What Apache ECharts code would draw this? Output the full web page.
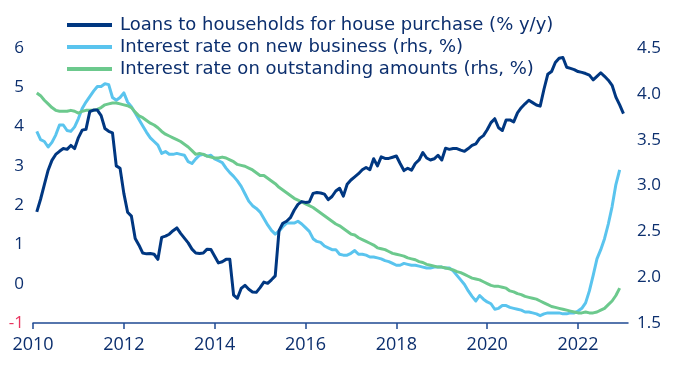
<!DOCTYPE html>
<html>
<head>
<meta charset="utf-8">
<script src="https://cdn.jsdelivr.net/npm/echarts@6/dist/echarts.min.js"></script>
<style>html,body{margin:0;padding:0;background:#fff;}#c{width:675px;height:371px;}</style>
</head>
<body>
<div id="c"></div>
<script>
// Monthly series; first observation = Feb 2010
const startYear = 2010;
const startMonth = 2;
const seriesNames = [
  'Loans to households for house purchase (% y/y)',
  'Interest rate on new business (rhs, %)',
  'Interest rate on outstanding amounts (rhs, %)'
];
const xTicks = [2010, 2012, 2014, 2016, 2018, 2020, 2022];
const leftTicks = [-1, 0, 1, 2, 3, 4, 5, 6];
const rightTicks = [1.5, 2.0, 2.5, 3.0, 3.5, 4.0, 4.5];

const loans = [
  1.83,2.15,2.52,2.89,3.14,3.29,3.37,3.44,3.42,3.52,3.44,3.72,
  3.91,3.93,4.38,4.42,4.42,4.28,3.95,3.88,3.84,3.00,2.94,2.30,
  1.82,1.72,1.15,0.98,0.78,0.76,0.77,0.75,0.62,1.18,1.21,1.26,
  1.35,1.42,1.28,1.16,1.04,0.88,0.78,0.77,0.78,0.88,0.87,0.70,
  0.53,0.56,0.62,0.62,-0.29,-0.37,-0.12,-0.04,-0.14,-0.21,-0.22,-0.10,
  0.04,0.01,0.10,0.20,1.35,1.54,1.59,1.68,1.87,2.02,2.09,2.07,
  2.08,2.30,2.32,2.31,2.28,2.14,2.22,2.36,2.43,2.23,2.53,2.64,
  2.72,2.80,2.90,2.96,2.90,3.18,3.00,3.23,3.19,3.19,3.22,3.25,
  3.06,2.88,2.94,2.89,3.06,3.15,3.34,3.20,3.15,3.18,3.27,3.15,
  3.45,3.42,3.44,3.44,3.40,3.37,3.44,3.52,3.56,3.70,3.77,3.92,
  4.10,4.20,3.97,3.90,4.17,4.17,4.12,4.35,4.48,4.58,4.67,4.61,
  4.55,4.52,4.95,5.33,5.40,5.63,5.74,5.76,5.51,5.48,5.45,5.40,
  5.38,5.35,5.31,5.19,5.28,5.37,5.28,5.18,5.05,4.75,4.55,4.33
];
const newBusiness = [
  3.59,3.50,3.48,3.42,3.47,3.55,3.66,3.66,3.60,3.59,3.64,3.73,
  3.84,3.91,3.97,4.03,4.08,4.08,4.11,4.10,3.96,3.93,3.96,4.01,
  3.91,3.86,3.79,3.72,3.65,3.58,3.52,3.48,3.44,3.35,3.37,3.34,
  3.34,3.35,3.34,3.33,3.26,3.24,3.29,3.33,3.34,3.32,3.33,3.29,
  3.27,3.25,3.19,3.14,3.10,3.05,2.99,2.91,2.83,2.78,2.75,2.71,
  2.64,2.57,2.51,2.47,2.50,2.55,2.59,2.59,2.59,2.61,2.58,2.54,
  2.50,2.42,2.39,2.38,2.34,2.32,2.30,2.30,2.25,2.24,2.24,2.26,
  2.29,2.25,2.25,2.24,2.22,2.22,2.21,2.20,2.18,2.17,2.15,2.13,
  2.13,2.15,2.14,2.13,2.13,2.12,2.11,2.10,2.10,2.11,2.11,2.11,
  2.10,2.10,2.07,2.02,1.97,1.92,1.85,1.79,1.74,1.80,1.76,1.73,
  1.71,1.65,1.66,1.69,1.69,1.67,1.66,1.65,1.64,1.62,1.62,1.61,
  1.60,1.58,1.60,1.61,1.61,1.61,1.61,1.60,1.60,1.61,1.61,1.63,
  1.66,1.72,1.85,2.02,2.20,2.30,2.42,2.58,2.77,3.01,3.17
];
const outstanding = [
  4.01,3.98,3.93,3.89,3.85,3.82,3.81,3.81,3.81,3.82,3.81,3.79,
  3.81,3.82,3.82,3.82,3.83,3.85,3.88,3.89,3.90,3.90,3.89,3.88,
  3.87,3.85,3.80,3.76,3.74,3.71,3.68,3.66,3.63,3.59,3.56,3.54,
  3.52,3.50,3.48,3.45,3.42,3.38,3.34,3.35,3.34,3.32,3.31,3.30,
  3.30,3.31,3.30,3.28,3.26,3.23,3.22,3.21,3.19,3.17,3.14,3.11,
  3.11,3.08,3.05,3.02,2.98,2.95,2.92,2.89,2.86,2.84,2.82,2.80,
  2.78,2.76,2.73,2.70,2.67,2.64,2.61,2.58,2.56,2.53,2.50,2.47,
  2.46,2.43,2.41,2.39,2.37,2.35,2.32,2.31,2.30,2.28,2.26,2.25,
  2.24,2.23,2.21,2.20,2.19,2.17,2.16,2.14,2.13,2.12,2.11,2.11,
  2.10,2.09,2.08,2.06,2.05,2.03,2.01,1.99,1.98,1.97,1.95,1.93,
  1.91,1.90,1.90,1.89,1.88,1.85,1.84,1.82,1.81,1.79,1.78,1.77,
  1.76,1.74,1.72,1.70,1.68,1.67,1.66,1.65,1.64,1.63,1.62,1.61,
  1.61,1.62,1.61,1.61,1.62,1.64,1.66,1.70,1.74,1.80,1.88
];

function toPairs(arr) {
  return arr.map((v, i) => [startYear + (startMonth - 1 + i) / 12, v]);
}

const NAVY = '#003781';
const LBLUE = '#5ac4ee';
const GREEN = '#6cc98d';
const TXT = '#0c2f6e';
const FONT = '"Open Sans"';
const LEGEND_FONT = '"DejaVu Sans"';

const chart = echarts.init(document.getElementById('c'), null, {renderer: 'canvas'});
chart.setOption({
  animation: false,
  backgroundColor: '#fff',
  textStyle: {fontFamily: FONT, color: TXT},
  grid: {left: 33, right: 47, top: 48, bottom: 48, containLabel: false},
  legend: {
    orient: 'vertical',
    left: 62,
    top: 10,
    itemWidth: 45,
    itemHeight: 4,
    itemGap: 2,
    icon: 'rect',
    selectedMode: false,
    textStyle: {fontFamily: LEGEND_FONT, fontSize: 18, color: TXT, lineHeight: 20, padding: [0, 0, 0, 3]},
    data: seriesNames
  },
  xAxis: {
    type: 'value',
    min: 2010,
    max: 2023.1,
    interval: 2,
    axisLine: {show: true, onZero: false, lineStyle: {color: '#1f4a93', width: 1.5}},
    axisTick: {show: true, length: 6, lineStyle: {color: '#1f4a93', width: 1.5}, customValues: xTicks},
    axisLabel: {
      customValues: xTicks,
      fontFamily: FONT, fontSize: 18, color: TXT, margin: 13,
      formatter: v => (Number.isInteger(v) ? String(v) : '')
    },
    splitLine: {show: false}
  },
  yAxis: [
    {
      type: 'value', min: -1, max: 6, interval: 1, position: 'left',
      axisLine: {show: false}, axisTick: {show: false}, splitLine: {show: false},
      axisLabel: {
        customValues: leftTicks,
        fontFamily: FONT, fontSize: 17, margin: 9,
        color: v => (v < 0 ? '#e8355f' : TXT),
        formatter: v => String(v)
      }
    },
    {
      type: 'value', min: 1.5, max: 4.5, interval: 0.5, position: 'right',
      axisLine: {show: false}, axisTick: {show: false}, splitLine: {show: false},
      axisLabel: {
        customValues: rightTicks,
        fontFamily: FONT, fontSize: 17, margin: 9, color: TXT,
        formatter: v => v.toFixed(1)
      }
    }
  ],
  series: [
    {
      name: seriesNames[0], type: 'line', yAxisIndex: 0, data: toPairs(loans),
      showSymbol: false, z: 4, color: NAVY,
      lineStyle: {color: NAVY, width: 3, join: 'round'}
    },
    {
      name: seriesNames[1], type: 'line', yAxisIndex: 1, data: toPairs(newBusiness),
      showSymbol: false, z: 2, color: LBLUE,
      lineStyle: {color: LBLUE, width: 3, join: 'round'}
    },
    {
      name: seriesNames[2], type: 'line', yAxisIndex: 1, data: toPairs(outstanding),
      showSymbol: false, z: 3, color: GREEN,
      lineStyle: {color: GREEN, width: 3, join: 'round'}
    }
  ]
});
</script>
</body>
</html>
